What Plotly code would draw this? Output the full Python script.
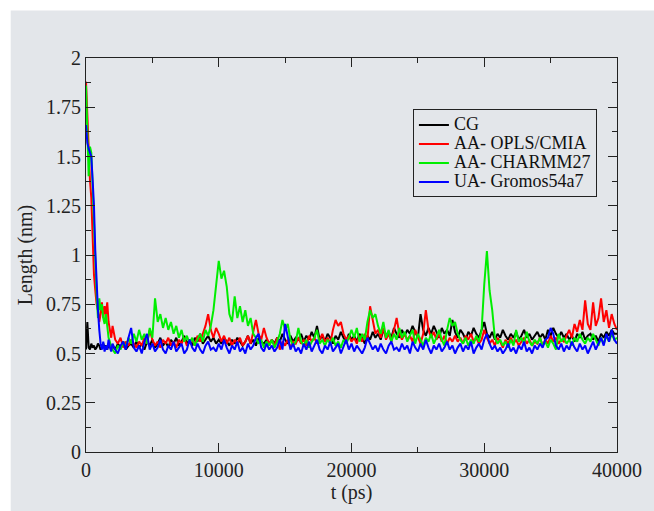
import plotly.graph_objects as go

# time grid (ps): finer sampling during the initial decay
t = list(range(0, 2000, 100)) + list(range(2000, 40001, 200))

cg = [
    0.52, 0.66, 0.53, 0.52, 0.55, 0.53, 0.54, 0.52, 0.53, 0.55, 0.54, 0.52, 0.53, 0.55, 0.53, 0.54, 0.52, 0.55, 0.53, 0.54,
    0.54, 0.52, 0.55, 0.53, 0.56, 0.52, 0.54, 0.55, 0.53, 0.56,
    0.53, 0.55, 0.52, 0.56, 0.54, 0.57, 0.53, 0.55, 0.58, 0.54,
    0.56, 0.53, 0.57, 0.55, 0.58, 0.54, 0.56, 0.59, 0.55, 0.57,
    0.54, 0.58, 0.56, 0.60, 0.55, 0.57, 0.59, 0.56, 0.58, 0.55,
    0.57, 0.55, 0.58, 0.56, 0.54, 0.57, 0.55, 0.58, 0.56, 0.54,
    0.56, 0.59, 0.55, 0.57, 0.54, 0.58, 0.56, 0.55, 0.57, 0.54,
    0.57, 0.55, 0.58, 0.56, 0.60, 0.57, 0.55, 0.59, 0.56, 0.58,
    0.57, 0.60, 0.56, 0.59, 0.57, 0.61, 0.58, 0.64, 0.57, 0.59,
    0.56, 0.60, 0.58, 0.55, 0.59, 0.57, 0.61, 0.58, 0.56, 0.60,
    0.57, 0.59, 0.56, 0.60, 0.58, 0.55, 0.59, 0.57, 0.61, 0.58,
    0.60, 0.57, 0.62, 0.59, 0.61, 0.58, 0.63, 0.60, 0.58, 0.62,
    0.59, 0.62, 0.60, 0.64, 0.61, 0.58, 0.70, 0.62, 0.59, 0.63,
    0.60, 0.64, 0.61, 0.58, 0.63, 0.60, 0.62, 0.59, 0.67, 0.61,
    0.58, 0.62, 0.60, 0.57, 0.61, 0.59, 0.63, 0.60, 0.58, 0.62,
    0.66, 0.60, 0.58, 0.61, 0.57, 0.60, 0.58, 0.62, 0.59, 0.57,
    0.60, 0.58, 0.61, 0.57, 0.59, 0.62, 0.58, 0.60, 0.57, 0.59,
    0.61, 0.58, 0.60, 0.57, 0.62, 0.59, 0.63, 0.60, 0.58, 0.61,
    0.58, 0.60, 0.57, 0.59, 0.56, 0.60, 0.58, 0.61, 0.57, 0.59,
    0.60, 0.57, 0.59, 0.56, 0.60, 0.58, 0.61, 0.59, 0.62, 0.60,
    0.60,
]

opls = [
    1.88, 1.70, 1.50, 1.38, 1.29, 1.05, 0.90, 0.82, 0.75, 0.72, 0.66, 0.70, 0.76, 0.68, 0.74, 0.70, 0.76, 0.66, 0.62, 0.58,
    0.64, 0.57, 0.55, 0.58, 0.53, 0.56, 0.54, 0.57, 0.55, 0.53,
    0.56, 0.54, 0.58, 0.55, 0.62, 0.57, 0.54, 0.56, 0.53, 0.57,
    0.55, 0.58, 0.54, 0.56, 0.53, 0.57, 0.55, 0.58, 0.54, 0.56,
    0.57, 0.54, 0.59, 0.56, 0.60, 0.64, 0.70, 0.62, 0.58, 0.63,
    0.60, 0.56, 0.59, 0.55, 0.58, 0.54, 0.57, 0.55, 0.58, 0.54,
    0.56, 0.59, 0.55, 0.62, 0.67, 0.60, 0.57, 0.63, 0.58, 0.55,
    0.57, 0.54, 0.58, 0.52, 0.56, 0.54, 0.57, 0.53, 0.56, 0.55,
    0.58, 0.55, 0.57, 0.54, 0.59, 0.56, 0.58, 0.55, 0.57, 0.60,
    0.56, 0.58, 0.55, 0.62, 0.67, 0.64, 0.66, 0.60, 0.57, 0.59,
    0.56, 0.58, 0.55, 0.59, 0.56, 0.60, 0.57, 0.74, 0.66, 0.60,
    0.62, 0.58, 0.63, 0.57, 0.60, 0.56, 0.62, 0.68, 0.60, 0.57,
    0.60, 0.57, 0.59, 0.56, 0.62, 0.58, 0.55, 0.60, 0.72, 0.62,
    0.58, 0.61, 0.57, 0.60, 0.56, 0.59, 0.55, 0.58, 0.56, 0.59,
    0.56, 0.58, 0.55, 0.59, 0.57, 0.60, 0.56, 0.58, 0.55, 0.57,
    0.62, 0.58, 0.55, 0.57, 0.54, 0.58, 0.56, 0.53, 0.57, 0.55,
    0.58, 0.55, 0.57, 0.54, 0.56, 0.58, 0.55, 0.57, 0.54, 0.56,
    0.55, 0.58, 0.54, 0.57, 0.55, 0.59, 0.56, 0.58, 0.55, 0.57,
    0.56, 0.59, 0.62, 0.58, 0.65, 0.61, 0.67, 0.62, 0.77, 0.65,
    0.62, 0.76, 0.64, 0.68, 0.78, 0.66, 0.72, 0.63, 0.70, 0.65,
    0.62,
]

charmm = [
    1.86, 1.55, 1.40, 1.55, 1.52, 1.35, 1.15, 0.95, 0.80, 0.68, 0.78, 0.72, 0.75, 0.68, 0.65, 0.70, 0.62, 0.58, 0.56, 0.53,
    0.52, 0.50, 0.54, 0.52, 0.56, 0.53, 0.58, 0.55, 0.60, 0.56,
    0.62, 0.57, 0.60, 0.55, 0.63, 0.58, 0.78, 0.66, 0.70, 0.63,
    0.68, 0.62, 0.66, 0.60, 0.64, 0.58, 0.62, 0.56, 0.59, 0.55,
    0.58, 0.54, 0.57, 0.60, 0.56, 0.62, 0.59, 0.64, 0.72, 0.86,
    0.97, 0.88, 0.92, 0.84, 0.70, 0.66, 0.79, 0.68, 0.74, 0.66,
    0.72, 0.64, 0.68, 0.60, 0.58, 0.55, 0.57, 0.53, 0.56, 0.54,
    0.57, 0.53, 0.56, 0.60, 0.67, 0.62, 0.65, 0.57, 0.54, 0.56,
    0.63, 0.56, 0.54, 0.57, 0.53, 0.56, 0.58, 0.62, 0.55, 0.57,
    0.54, 0.57, 0.55, 0.58, 0.54, 0.56, 0.53, 0.57, 0.55, 0.58,
    0.62, 0.58, 0.63, 0.56, 0.60, 0.57, 0.66, 0.72, 0.68, 0.70,
    0.64, 0.60, 0.66, 0.58, 0.62, 0.56, 0.60, 0.57, 0.63, 0.58,
    0.61, 0.56, 0.59, 0.62, 0.55, 0.60, 0.57, 0.54, 0.58, 0.56,
    0.60, 0.55, 0.58, 0.62, 0.57, 0.54, 0.62, 0.68, 0.64, 0.66,
    0.60, 0.57, 0.55, 0.58, 0.54, 0.57, 0.55, 0.59, 0.56, 0.62,
    0.85, 1.02, 0.82, 0.72, 0.58, 0.55, 0.57, 0.54, 0.56, 0.53,
    0.57, 0.54, 0.62, 0.56, 0.58, 0.55, 0.61, 0.56, 0.54, 0.57,
    0.55, 0.58, 0.54, 0.56, 0.53, 0.57, 0.55, 0.52, 0.60, 0.56,
    0.58, 0.55, 0.57, 0.54, 0.58, 0.56, 0.60, 0.57, 0.55, 0.58,
    0.56, 0.60, 0.57, 0.54, 0.58, 0.55, 0.59, 0.56, 0.60, 0.57,
    0.58,
]

gromos = [
    1.66, 1.57, 1.54, 1.52, 1.50, 1.38, 1.25, 1.02, 0.85, 0.72, 0.62, 0.55, 0.52, 0.56, 0.51, 0.54, 0.52, 0.57, 0.53, 0.51,
    0.55, 0.52, 0.50, 0.54, 0.56, 0.52, 0.58, 0.63, 0.53, 0.51,
    0.54, 0.50, 0.56, 0.60, 0.52, 0.55, 0.51, 0.53, 0.57, 0.52,
    0.50, 0.54, 0.52, 0.56, 0.51, 0.53, 0.55, 0.50, 0.52, 0.57,
    0.53, 0.51, 0.55, 0.52, 0.50, 0.54, 0.56, 0.52, 0.53, 0.51,
    0.55, 0.52, 0.57, 0.53, 0.50, 0.54, 0.52, 0.56, 0.51, 0.53,
    0.50, 0.55, 0.52, 0.54, 0.58, 0.60, 0.53, 0.51, 0.55, 0.52,
    0.54, 0.51, 0.53, 0.57, 0.52, 0.65, 0.58, 0.52, 0.55, 0.51,
    0.53, 0.50, 0.55, 0.52, 0.56, 0.51, 0.54, 0.57, 0.52, 0.50,
    0.54, 0.52, 0.56, 0.51, 0.53, 0.55, 0.50, 0.54, 0.57, 0.52,
    0.55, 0.51, 0.54, 0.52, 0.50, 0.53, 0.58, 0.55, 0.52, 0.54,
    0.51, 0.55, 0.52, 0.50, 0.54, 0.56, 0.52, 0.53, 0.51, 0.55,
    0.52, 0.54, 0.50, 0.56, 0.53, 0.51, 0.55, 0.52, 0.57, 0.53,
    0.50, 0.54, 0.52, 0.55, 0.51, 0.53, 0.56, 0.52, 0.54, 0.50,
    0.53, 0.55, 0.51, 0.54, 0.52, 0.56, 0.50, 0.53, 0.55, 0.52,
    0.57, 0.60, 0.55, 0.52, 0.54, 0.51, 0.53, 0.50, 0.52, 0.55,
    0.51, 0.53, 0.50, 0.54, 0.52, 0.56, 0.51, 0.53, 0.50, 0.54,
    0.52, 0.55, 0.53, 0.57, 0.58, 0.63, 0.60, 0.54, 0.52, 0.55,
    0.51, 0.54, 0.52, 0.56, 0.53, 0.51, 0.55, 0.52, 0.54, 0.50,
    0.53, 0.56, 0.52, 0.55, 0.58, 0.54, 0.60, 0.56, 0.62, 0.57,
    0.55,
]

series_names = ["CG", "AA- OPLS/CMIA", "AA- CHARMM27", "UA- Gromos54a7"]
series_values = [cg, opls, charmm, gromos]
series_colors = ["#000000", "#ff0000", "#00ee00", "#0000ff"]

x_ticks = [0, 10000, 20000, 30000, 40000]
y_ticks = [0, 0.25, 0.5, 0.75, 1, 1.25, 1.5, 1.75, 2]
y_tick_labels = ["0", "0.25", "0.5", "0.75", "1", "1.25", "1.5", "1.75", "2"]

BG = "#e3e6ea"
FONT = "Liberation Serif, Times New Roman, Tinos, DejaVu Serif, serif"

fig = go.Figure()
for name, vals, col in zip(series_names, series_values, series_colors):
    fig.add_trace(go.Scatter(
        x=t, y=vals, mode="lines",
        name='<span style="font-size:18px">' + name + '</span>',
        line=dict(color=col, width=2)))

# light-grey page panel (white strip at top/left like the reference)
fig.add_shape(type="rect", xref="paper", yref="paper", layer="below",
              x0=(10 - 86) / 536, x1=(660 - 86) / 536,
              y0=(456 - 520) / 398, y1=(456 - 10) / 398,
              line=dict(width=0), fillcolor=BG)

axis_common = dict(showline=True, linecolor="#222", linewidth=1, mirror="allticks",
                   ticks="inside", ticklen=9, tickwidth=1, tickcolor="#222",
                   showgrid=False, zeroline=False,
                   tickfont=dict(family=FONT, size=20, color="#222"))

fig.update_xaxes(range=[0, 40000], tickvals=x_ticks, ticktext=[str(v) for v in x_ticks],
                 minor=dict(ticks="inside", ticklen=5, dtick=5000, tickcolor="#222"),
                 title=dict(text="t (ps)", font=dict(family=FONT, size=20, color="#222"), standoff=4),
                 **axis_common)
fig.update_yaxes(range=[0, 2], tickvals=y_ticks, ticktext=y_tick_labels,
                 minor=dict(ticks="inside", ticklen=5, dtick=0.125, tickcolor="#222"),
                 title=dict(text="Length (nm)", font=dict(family=FONT, size=20, color="#222"), standoff=8),
                 **axis_common)

fig.update_layout(
    width=654, height=511,
    margin=dict(l=86, r=32, t=58, b=55),
    paper_bgcolor="white", plot_bgcolor="rgba(0,0,0,0)",
    font=dict(family=FONT),
    showlegend=True,
    legend=dict(x=(416 - 86) / 536, y=(456 - 110) / 398, xanchor="left", yanchor="top",
                bgcolor=BG, bordercolor="#222", borderwidth=1,
                font=dict(family=FONT, size=12, color="#111"),
                tracegroupgap=0, itemwidth=30),
)

fig.write_html("out.html")
